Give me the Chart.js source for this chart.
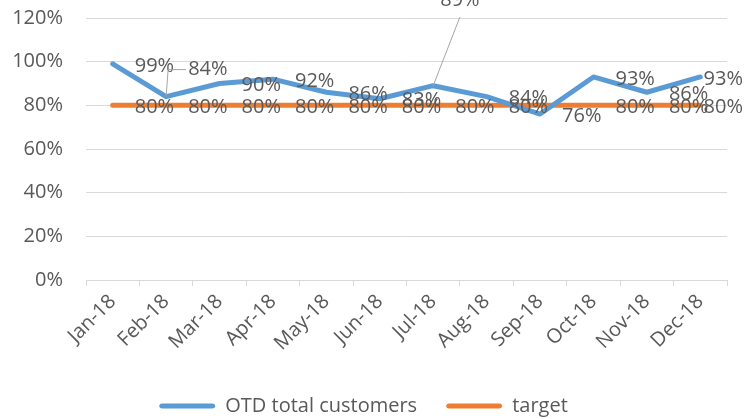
<!DOCTYPE html>
<html>
<head>
<meta charset="utf-8">
<script src="https://cdn.jsdelivr.net/npm/chart.js@4"></script>
<style>
  html, body { margin: 0; padding: 0; background: #fff; }
  #wrap { width: 746px; height: 419px; }
</style>
</head>
<body>
<div id="wrap"><canvas id="chart" width="746" height="419"></canvas></div>
<script>
const months = ["Jan-18","Feb-18","Mar-18","Apr-18","May-18","Jun-18","Jul-18","Aug-18","Sep-18","Oct-18","Nov-18","Dec-18"];
const otd = [0.99, 0.84, 0.90, 0.92, 0.86, 0.83, 0.89, 0.84, 0.76, 0.93, 0.86, 0.93];
const target = [0.80, 0.80, 0.80, 0.80, 0.80, 0.80, 0.80, 0.80, 0.80, 0.80, 0.80, 0.80];
const yTicks = [0, 0.2, 0.4, 0.6, 0.8, 1.0, 1.2];

const FONT = "'Open Sans', sans-serif";
const TXT = "#595959";

// labels moved by hand in the original (leader lines)
const moved = { 0: { 1: { dy: -29, leader: true }, 6: { top: -18, dx: -15, leader: true } } };
const hidden = { 1: [8] };

const pct = v => Math.round(v * 100) + "%";

const dataLabels = {
  id: "dataLabels",
  afterDatasetsDraw(chart) {
    const ctx = chart.ctx;
    const area = chart.chartArea;
    ctx.save();
    ctx.font = "20px " + FONT;
    ctx.textBaseline = "middle";
    ctx.textAlign = "left";
    chart.data.datasets.forEach((ds, di) => {
      const meta = chart.getDatasetMeta(di);
      meta.data.forEach((pt, i) => {
        if ((hidden[di] || []).includes(i)) return;
        const txt = pct(ds.data[i]);
        const w = ctx.measureText(txt).width;
        let x = pt.x + 22, y = pt.y + 2;
        const m = (moved[di] || {})[i];
        if (m) {
          if (m.dx) x += m.dx;
          if (m.dy) y += m.dy;
          if (m.top !== undefined) y = area.top + m.top;
          ctx.strokeStyle = "#a6a6a6";
          ctx.lineWidth = 1;
          ctx.beginPath();
          if (m.top !== undefined) {
            ctx.moveTo(pt.x, pt.y);
            ctx.lineTo(x + w / 2, y + 17);
          } else {
            ctx.moveTo(pt.x, pt.y);
            ctx.lineTo(pt.x + 2, y);
            ctx.lineTo(x - 2, y);
          }
          ctx.stroke();
        }
        if (x + w > chart.width - 3) x = chart.width - 3 - w;
        ctx.fillStyle = TXT;
        ctx.fillText(txt, x, y);
      });
    });
    ctx.restore();
  }
};

new Chart(document.getElementById("chart"), {
  type: "line",
  data: {
    labels: months,
    datasets: [
      { label: "OTD total customers", data: otd, borderColor: "#5b9bd5", backgroundColor: "#5b9bd5",
        borderWidth: 5, pointRadius: 0, tension: 0, borderCapStyle: "round", borderJoinStyle: "round" },
      { label: "target", data: target, borderColor: "#ed7d31", backgroundColor: "#ed7d31",
        borderWidth: 5, pointRadius: 0, tension: 0, borderCapStyle: "round", borderJoinStyle: "round" }
    ]
  },
  options: {
    responsive: false,
    animation: false,
    layout: { padding: { top: 18, right: 19, left: 0, bottom: -7 } },
    plugins: {
      tooltip: { enabled: false },
      legend: {
        position: "bottom",
        labels: {
          font: { family: FONT, size: 20 },
          color: TXT,
          boxWidth: 56,
          boxHeight: 5,
          padding: 29,
          generateLabels(chart) {
            return chart.data.datasets.map((ds, i) => ({
              text: ds.label, fillStyle: ds.borderColor, strokeStyle: ds.borderColor,
              lineWidth: 0, borderRadius: 3, datasetIndex: i, fontColor: TXT
            }));
          }
        }
      }
    },
    scales: {
      x: {
        offset: true,
        grid: { drawOnChartArea: false, drawTicks: true, tickLength: 6, color: "#d9d9d9", offset: true },
        border: { color: "#d9d9d9" },
        ticks: { color: TXT, font: { family: FONT, size: 20 }, minRotation: 45, maxRotation: 45, padding: 4 },
        afterFit(s) { s.height = 87; }
      },
      y: {
        min: 0, max: 1.2,
        afterBuildTicks(s) { s.ticks = yTicks.map(v => ({ value: v })); },
        grid: { color: "#d9d9d9", drawTicks: false },
        border: { display: false },
        ticks: { color: TXT, font: { family: FONT, size: 20 }, padding: 23, callback: v => pct(v) },
        afterFit(s) { s.width = 86; s.paddingTop = 0; s.paddingBottom = 0; }
      }
    }
  },
  plugins: [dataLabels]
});
</script>
</body>
</html>
